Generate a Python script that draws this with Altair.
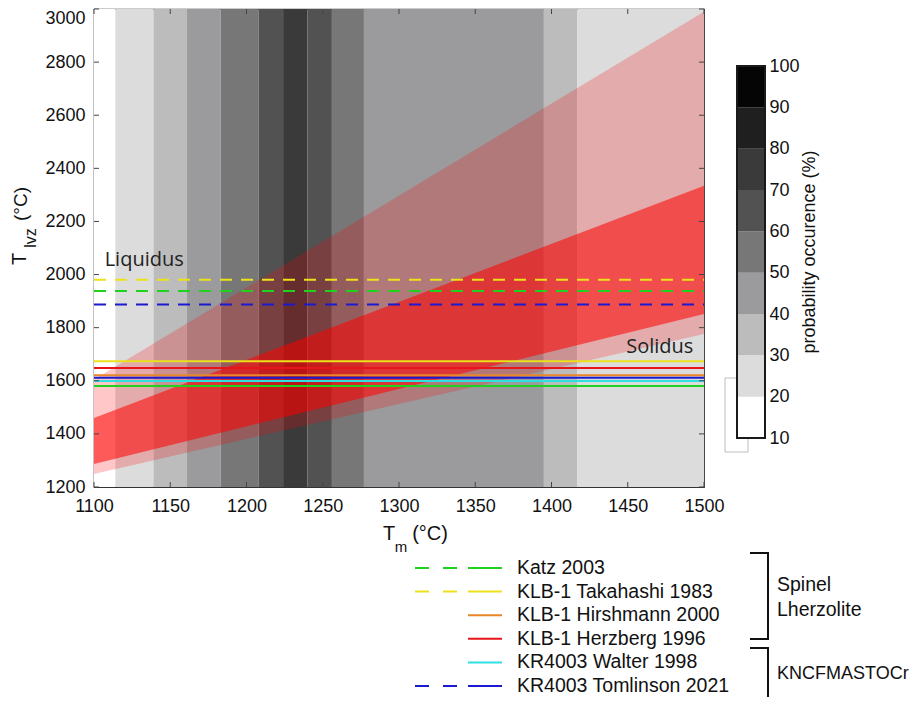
import altair as alt
import pandas as pd

# ---------------- data ----------------
tm_ticks = [1100, 1150, 1200, 1250, 1300, 1350, 1400, 1450, 1500]
tlvz_ticks = [1200, 1400, 1600, 1800, 2000, 2200, 2400, 2600, 2800, 3000]

# probability-of-occurrence histogram of Tm (vertical bands)
band_lo = [1100, 1114, 1139, 1161, 1183, 1208, 1224, 1240, 1256, 1277, 1395, 1417]
band_hi = [1114, 1139, 1161, 1183, 1208, 1224, 1240, 1256, 1277, 1395, 1417, 1500]
band_prob = [15, 25, 35, 45, 55, 65, 75, 65, 55, 45, 35, 25]

# colour bar classes
prob_domain = [10, 100]
prob_values = [10, 20, 30, 40, 50, 60, 70, 80, 90, 100]
cbar_lo = [10, 20, 30, 40, 50, 60, 70, 80, 90]
cbar_hi = [20, 30, 40, 50, 60, 70, 80, 90, 100]
cbar_mid = [15, 25, 35, 45, 55, 65, 75, 85, 95]
prob_grays = ["#ffffff", "#dcdcdc", "#bcbcbc", "#9b9b9d", "#777777",
              "#525252", "#3a3a3a", "#1f1f1f", "#050505"]
prob_title = "probability occurence (%)"

# Tlvz envelopes as a function of Tm
fan_tm = [1100, 1500]
envelope_lo = [1249, 1776]
envelope_hi = [1605, 2990]
core_lo = [1287, 1851]
core_hi = [1460, 2334]

series = ["Katz 2003", "KLB-1 Takahashi 1983", "KLB-1 Hirshmann 2000",
          "KLB-1 Herzberg 1996", "KR4003 Walter 1998", "KR4003 Tomlinson 2021"]
series_colors = ["#1ed21e", "#ece21a", "#e8862a", "#e8141a", "#2ee0e0", "#1a1ad0"]
solidus_T = [1580, 1674, 1621, 1648, 1599, 1611]
liquidus_series = ["KLB-1 Takahashi 1983", "Katz 2003", "KR4003 Tomlinson 2021"]
liquidus_T = [1980, 1938, 1887]

annot_text = ["Liquidus", "Solidus"]
annot_tm = [1107, 1493]
annot_T = [2055, 1727]

group_text = ["Spinel", "Lherzolite", "KNCFMASTOCr"]

# ---------------- chart ----------------
W, H = 610, 478
AX_FONT = "Liberation Sans"
TX_FONT = "Open Sans"
LEG_SIZE = 19.5

xs = alt.Scale(domain=[1100, 1500], nice=False, zero=False)
ys = alt.Scale(domain=[1200, 3000], nice=False, zero=False)
fill_scale = alt.Scale(type="quantize", domain=prob_domain, range=prob_grays, nice=False, zero=False)

bands = pd.DataFrame({"lo": band_lo, "hi": band_hi, "prob": band_prob})
band_layer = alt.Chart(bands).mark_rect().encode(
    x=alt.X("lo:Q", scale=xs, axis=alt.Axis(
        values=tm_ticks, format="d", title=None, ticks=False, domain=False, grid=False,
        labelFont=AX_FONT, labelFontSize=18, labelColor="#111",
        labelPadding=10, labelFlush=False, labelOverlap=False)),
    x2="hi:Q",
    y=alt.value(0),
    y2=alt.value(H),
    fill=alt.Fill("prob:Q", scale=fill_scale, legend=None),
)

fans = pd.DataFrame({"tm": fan_tm, "elo": envelope_lo, "ehi": envelope_hi,
                     "clo": core_lo, "chi": core_hi})
env_layer = alt.Chart(fans).mark_area(color="#ff0000", opacity=0.22, clip=True).encode(
    x=alt.X("tm:Q", scale=xs),
    y=alt.Y("elo:Q", scale=ys, axis=alt.Axis(
        values=tlvz_ticks, format="d", title=None, ticks=False, domain=False, grid=False,
        labelFont=AX_FONT, labelFontSize=18, labelColor="#111",
        labelPadding=9, labelFlush=False, labelOverlap=False,
        labelBaseline={"condition": {"test": "datum.value == 3000", "value": "top"},
                       "value": "middle"})),
    y2="ehi:Q",
)
core_layer = alt.Chart(fans).mark_area(color="#ff0000", opacity=0.55, clip=True).encode(
    x=alt.X("tm:Q", scale=xs),
    y=alt.Y("clo:Q", scale=ys),
    y2="chi:Q",
)

sol = pd.DataFrame({"name": series, "T": solidus_T, "kind": "solidus"})
liq = pd.DataFrame({"name": liquidus_series, "T": liquidus_T, "kind": "liquidus"})
lines = pd.concat([liq, sol], ignore_index=True)
stroke_enc = alt.Stroke("name:N", scale=alt.Scale(domain=series, range=series_colors), legend=None)
line_layer = alt.Chart(lines).mark_rule(strokeWidth=2).encode(
    x=alt.value(0), x2=alt.value(W),
    y=alt.Y("T:Q", scale=ys),
    stroke=stroke_enc,
    strokeDash=alt.StrokeDash("kind:N", scale=alt.Scale(domain=["liquidus", "solidus"],
                                                         range=[[12, 9], [1, 0]]), legend=None),
)

# inward ticks (MATLAB style box)
xt = pd.DataFrame({"v": tm_ticks})
yt = pd.DataFrame({"v": tlvz_ticks})
tick_col = "#444"
tick_layers = [
    alt.Chart(xt).mark_rule(color=tick_col).encode(x=alt.X("v:Q", scale=xs), y=alt.value(H), y2=alt.value(H - 5)),
    alt.Chart(xt).mark_rule(color=tick_col).encode(x=alt.X("v:Q", scale=xs), y=alt.value(0), y2=alt.value(5)),
    alt.Chart(yt).mark_rule(color=tick_col).encode(y=alt.Y("v:Q", scale=ys), x=alt.value(0), x2=alt.value(5)),
    alt.Chart(yt).mark_rule(color=tick_col).encode(y=alt.Y("v:Q", scale=ys), x=alt.value(W), x2=alt.value(W - 5)),
]

annot = pd.DataFrame({"t": annot_text, "tm": annot_tm, "T": annot_T})
annot_layers = [
    alt.Chart(annot.iloc[[0]]).mark_text(font=TX_FONT, fontSize=20, color="#222", align="left", baseline="middle").encode(
        x=alt.X("tm:Q", scale=xs), y=alt.Y("T:Q", scale=ys), text="t:N"),
    alt.Chart(annot.iloc[[1]]).mark_text(font=TX_FONT, fontSize=20, color="#222", align="right", baseline="middle").encode(
        x=alt.X("tm:Q", scale=xs), y=alt.Y("T:Q", scale=ys), text="t:N"),
]

one = pd.DataFrame({"a": [0]})


def txt(s, x, y, size, font=AX_FONT, angle=0, align="center"):
    return alt.Chart(one).mark_text(text=s, font=font, fontSize=size, color="#111",
                                    angle=angle, align=align, baseline="middle").encode(
        x=alt.value(x), y=alt.value(y))


title_layers = [
    txt("T", -74, 250, 20, angle=270),
    txt("lvz", -63, 229, 16, angle=270),
    txt("(°C)", -73, 195, 19, angle=270),
    txt("T", 295, 525, 20),
    txt("m", 307, 538, 15),
    txt("(°C)", 336, 525, 20),
    txt(prob_title, 716, 243, 18, angle=270),
]

# custom line legend below the plot
leg = pd.DataFrame({"name": series, "row": list(range(len(series)))})
leg_liq = leg[leg["name"].isin(liquidus_series)]
ROW0, DROW = 559, 23.6
row_expr = f"{ROW0} + datum.row * {DROW}"
legend_layers = [
    alt.Chart(leg).transform_calculate(py=row_expr).mark_rule(strokeWidth=2).encode(
        x=alt.value(374), x2=alt.value(408), y=alt.Y("py:Q", scale=None), stroke=stroke_enc),
    alt.Chart(leg_liq).transform_calculate(py=row_expr).mark_rule(strokeWidth=2, strokeDash=[14, 14]).encode(
        x=alt.value(321), x2=alt.value(364), y=alt.Y("py:Q", scale=None), stroke=stroke_enc),
    alt.Chart(leg).transform_calculate(py=row_expr).mark_text(
        font=AX_FONT, fontSize=LEG_SIZE, color="#111", align="left", baseline="middle").encode(
        x=alt.value(423), y=alt.Y("py:Q", scale=None), text="name:N"),
]


def rule(x, x2, y, y2, color="#111", w=2):
    return alt.Chart(one).mark_rule(color=color, strokeWidth=w).encode(
        x=alt.value(x), x2=alt.value(x2), y=alt.value(y), y2=alt.value(y2))


bracket_layers = [
    rule(674, 674, 544, 630), rule(656, 675, 544, 544), rule(656, 675, 630, 630),
    rule(674, 674, 639, 700), rule(656, 675, 639, 639),
    txt(group_text[0], 683, 576, LEG_SIZE, font=AX_FONT, align="left"),
    txt(group_text[1], 683, 601, LEG_SIZE, font=AX_FONT, align="left"),
    txt(group_text[2], 683, 665, 18, font=AX_FONT, align="left"),
]

# faint outline artefact next to the colour bar
artefact = alt.Chart(one).mark_rect(fill=None, stroke="#bdbdbd", strokeWidth=1).encode(
    x=alt.value(631), x2=alt.value(654), y=alt.value(369), y2=alt.value(443))

main = alt.layer(
    band_layer, env_layer, core_layer, line_layer, *tick_layers, *annot_layers,
    *title_layers, *legend_layers, *bracket_layers, artefact,
)

# colour bar drawn from the same fill scale, with its own y scale and axis
cb = pd.DataFrame({"lo": cbar_lo, "hi": cbar_hi, "prob": cbar_mid})
cbar_rects = alt.Chart(cb).mark_rect().encode(
    x=alt.value(643), x2=alt.value(671),
    y=alt.Y("lo:Q", scale=alt.Scale(domain=prob_domain, range=[429, 57], nice=False, zero=False),
            axis=alt.Axis(orient="right", offset=61, values=prob_values, format="d",
                          title=None, ticks=False, domain=False, grid=False,
                          labelFont=AX_FONT, labelFontSize=18, labelColor="#111",
                          labelPadding=4, labelFlush=False, labelOverlap=False)),
    y2="hi:Q",
    fill=alt.Fill("prob:Q", scale=fill_scale, legend=None),
)
cbar_frame = alt.Chart(one).mark_rect(fill=None, stroke="#1a1a1a", strokeWidth=2).encode(
    x=alt.value(643), x2=alt.value(671), y=alt.value(57), y2=alt.value(429))
cbar = alt.layer(cbar_rects, cbar_frame)

chart = alt.layer(main, cbar).resolve_scale(y="independent").properties(
    width=W, height=H,
    padding={"left": 86, "top": 1, "right": 206, "bottom": 210},
    autosize=alt.AutoSizeParams(type="none"),
).configure_view(stroke="#333", strokeWidth=1.2)

chart.save("out.html", embed_options={"renderer": "svg", "actions": False})
